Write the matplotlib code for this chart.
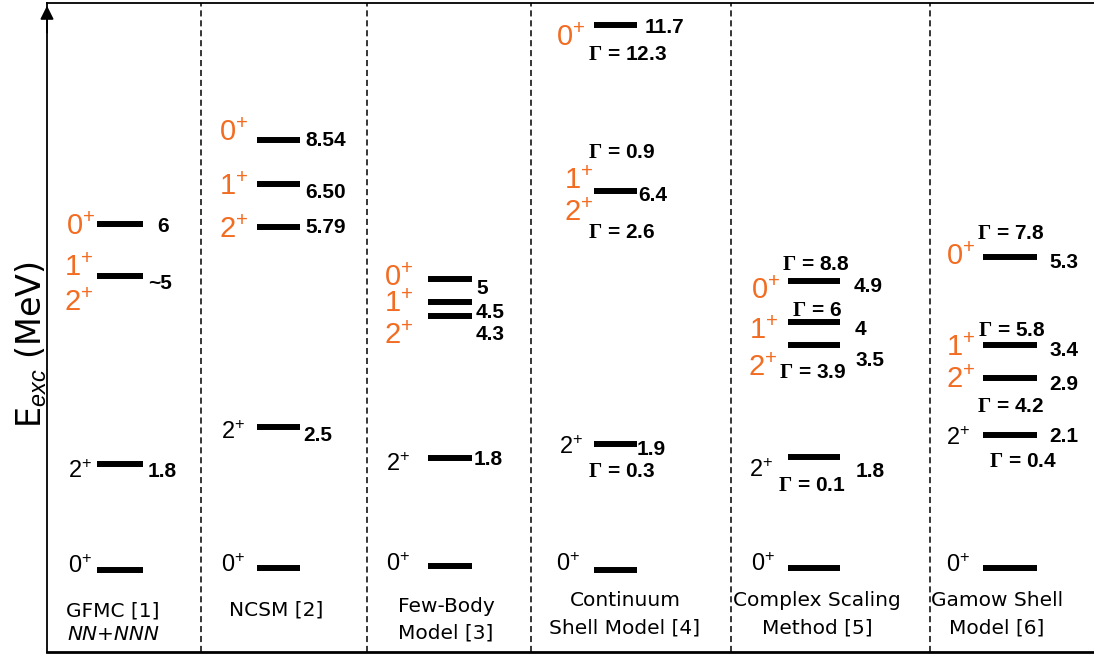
import matplotlib.pyplot as plt

plt.rcParams.update({
    "mathtext.fontset": "custom",
    "mathtext.rm": "Liberation Sans",
    "mathtext.it": "Liberation Sans:italic",
    "mathtext.bf": "Liberation Serif:bold",
})

ORANGE = "#F26C22"

# Data: one entry per method, levels listed from the ground state up
methods = [
    ["GFMC [1]", "NN+NNN"],
    ["NCSM [2]"],
    ["Few-Body", "Model [3]"],
    ["Continuum", "Shell Model [4]"],
    ["Complex Scaling", "Method [5]"],
    ["Gamow Shell", "Model [6]"],
]
# excitation energies (MeV) as written next to each level
energies = [
    ["", "1.8", "~5", "6"],
    ["", "2.5", "5.79", "6.50", "8.54"],
    ["", "1.8", "4.3", "4.5", "5"],
    ["", "1.9", "6.4", "11.7"],
    ["", "1.8", "3.5", "4", "4.9"],
    ["", "2.1", "2.9", "3.4", "5.3"],
]
# level heights on the schematic (not to scale) diagram, MeV-like units
heights = [
    [0.0, 1.80, 4.98, 5.86],
    [0.03, 2.42, 5.81, 6.54, 7.29],
    [0.07, 1.90, 4.31, 4.54, 4.93],
    [0.0, 2.14, 6.42, 9.24],
    [0.03, 1.92, 3.81, 4.20, 4.90],
    [0.03, 2.29, 3.25, 3.81, 5.31],
]
# J (all positive parity) of each level
spins = [
    [["0"], ["2"], ["1", "2"], ["0"]],
    [["0"], ["2"], ["2"], ["1"], ["0"]],
    [["0"], ["2"], ["2"], ["1"], ["0"]],
    [["0"], ["2"], ["1", "2"], ["0"]],
    [["0"], ["2"], ["2"], ["1"], ["0"]],
    [["0"], ["2"], ["2"], ["1"], ["0"]],
]
# widths Gamma (MeV)
widths = [
    [[], [], [], []],
    [[], [], [], [], []],
    [[], [], [], [], []],
    [[], ["0.3"], ["0.9", "2.6"], ["12.3"]],
    [[], ["0.1"], ["3.9"], ["6"], ["8.8"]],
    [[], ["0.4"], ["4.2"], ["5.8"], ["7.8"]],
]

# Layout (pixels)
col_center = [120, 278.5, 450, 615.5, 814, 1010]
half_len = [23, 21.5, 22, 21.5, 26, 27]
separators = [201, 367, 531, 731, 930]
spin_off = [
    [[(-5, 5)], [(-5, -6)], [(-4, 11), (-4, -24)], [(-2, 0)]],
    [[(-12, 5)], [(-12, -3)], [(-9, 0)], [(-9, 0)], [(-9, 9)]],
    [[(-18, 3)], [(-18, -5)], [(-15, -18)], [(-15, 1)], [(-15, 4)]],
    [[(-14, 7)], [(-11, -2)], [(-1, 13), (-1, -19)], [(-9, -11)]],
    [[(-13, 6)], [(-15, -12)], [(-11, -20)], [(-10, -6)], [(-8, -8)]],
    [[(-13, 5)], [(-13, -2)], [(-8, 1)], [(-8, 0)], [(-8, 2)]],
]
val_off = [
    [None, (5, -6), (5, -5), (14, 0)],
    [None, (3, -6), (5, 2), (5, -6), (5, 1)],
    [None, (2, 0), (4, -17), (4, -8), (4, -7)],
    [None, (0, -4), (1, -2), (8, -1)],
    [None, (16, -13), (16, -13), (15, -5), (14, -4)],
    [None, (12, 0), (12, -4), (12, -3), (12, -4)],
]
gam_off = [
    [[], [], [], []],
    [[], [], [], [], []],
    [[], [], [], [], []],
    [[], [(6, -26)], [(6, 41), (6, -39)], [(12, -28)]],
    [[], [(-2, -27)], [(-1, -25)], [(3, 14)], [(2, 18)]],
    [[], [(13, -25)], [(1, -26)], [(2, 17)], [(1, 25)]],
]
label_x = [113, 276, 446, 625, 817, 997]
label_y = [[611, 635], [610], [607, 633], [601, 628], [601, 628], [601, 628]]

W, H = 1094, 656
Y0, SCALE = 570, 59  # pixel row of 0 MeV, pixels per unit


def py(p):
    return (Y0 - p) / SCALE


def cap(size):
    return size * 100 / 72 * 0.716 / 2


fig = plt.figure(figsize=(W / 100, H / 100), dpi=100)
ax = fig.add_axes([47 / W, 4 / H, 1 - 47 / W, 649 / H])
ax.set_xlim(47, W)
ax.set_ylim(py(652), py(3))
ax.set_xticks([])
ax.set_yticks([])
ax.spines["right"].set_visible(False)
ax.spines["left"].set_linewidth(1.3)
ax.spines["top"].set_linewidth(1.3)
ax.spines["bottom"].set_linewidth(2.0)
ax.annotate("", xy=(0, 1.0), xytext=(0, 0.95), xycoords="axes fraction",
            arrowprops=dict(arrowstyle="-|>", color="k", lw=1.3, mutation_scale=20),
            annotation_clip=False)

for s in separators:
    ax.axvline(s, color="k", lw=1.1, ls=(0, (4, 2.5)))

for c in range(len(methods)):
    x0 = col_center[c] - half_len[c]
    x1 = col_center[c] + half_len[c]
    ax.hlines(heights[c], x0, x1, color="k", lw=4.3)
    for i, h in enumerate(heights[c]):
        orange = i >= 2
        size = 21 if orange else 17
        for j, (dx, dy) in zip(spins[c][i], spin_off[c][i]):
            ax.annotate(f"{j}$^{{+}}$", (x0, h), xytext=(dx, dy - cap(size)),
                        textcoords="offset pixels", ha="right", va="baseline",
                        fontsize=size, color=ORANGE if orange else "k",
                        family="Liberation Sans")
        if energies[c][i]:
            dx, dy = val_off[c][i]
            ax.annotate(energies[c][i], (x1, h), xytext=(dx, dy - cap(15)),
                        textcoords="offset pixels", ha="left", va="baseline",
                        fontsize=15, fontweight="bold", family="Liberation Sans")
        for w, (dx, dy) in zip(widths[c][i], gam_off[c][i]):
            ax.annotate(r"$\mathbf{\Gamma}$ = " + w, (col_center[c], h),
                        xytext=(dx, dy - cap(15)), textcoords="offset pixels",
                        ha="center", va="baseline", fontsize=15,
                        fontweight="bold", family="Liberation Sans")
    for k, line in enumerate(methods[c]):
        italic = c == 0 and k == 1
        ax.text(label_x[c], py(label_y[c][k]), line, ha="center", va="center",
                fontsize=14.5, family="DejaVu Sans",
                style="italic" if italic else "normal")

fig.text(31 / W, 1 - 345 / H, r"E$_{exc}$ (MeV)", rotation=90, ha="center",
         va="center", fontsize=24, family="DejaVu Sans")

fig.savefig("out.png", dpi=100)
